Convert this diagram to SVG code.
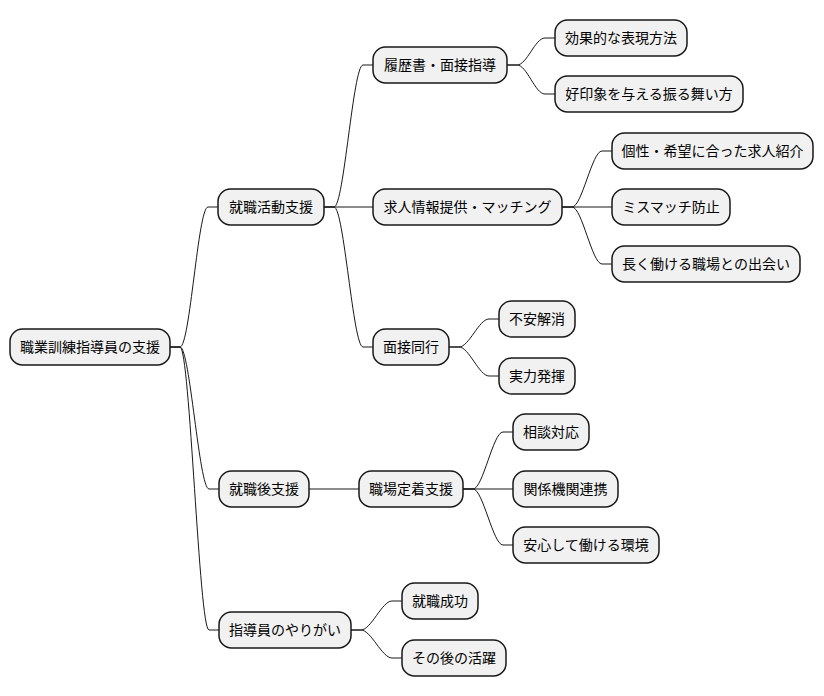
<svg xmlns="http://www.w3.org/2000/svg" width="824" height="696" viewBox="0 0 824 696">
<style>
.n rect{fill:#F1F1F1;stroke:#181818;stroke-width:1.5}
.n text{font-family:"Noto Sans CJK JP","Noto Sans",sans-serif;font-size:14px;fill:#000;text-anchor:middle}
.c path{fill:none;stroke:#181818;stroke-width:1}
</style>
<rect width="824" height="696" fill="#FFFFFF"/>
<g id="connectors" class="c">
<path d="M170,347 L180,347 C190,347 198,207 208,207 L218,207"/>
<path d="M170,347 L180,347 C190,347 199,489 209,489 L219,489"/>
<path d="M170,347 L180,347 C190,347 199,630 209,630 L219,630"/>
<path d="M324,207 L334,207 C344,207 353,65 363,65 L373,65"/>
<path d="M324,207 L373,207"/>
<path d="M324,207 L334,207 C344,207 353,347 363,347 L373,347"/>
<path d="M507,65 L517,65 C527,65 535,38 545,38 L555,38"/>
<path d="M507,65 L517,65 C527,65 535,94 545,94 L555,94"/>
<path d="M562,207 L572,207 C582,207 592,151 602,151 L612,151"/>
<path d="M562,207 L612,207"/>
<path d="M562,207 L572,207 C582,207 592,264 602,264 L612,264"/>
<path d="M449,347 L459,347 C469,347 479,319 489,319 L499,319"/>
<path d="M449,347 L459,347 C469,347 479,376 489,376 L499,376"/>
<path d="M309,489 L359,489"/>
<path d="M463,489 L473,489 C483,489 493,432 503,432 L513,432"/>
<path d="M463,489 L513,489"/>
<path d="M463,489 L473,489 C483,489 493,545 503,545 L513,545"/>
<path d="M351,630 L361,630 C371,630 382,601 392,601 L402,601"/>
<path d="M351,630 L361,630 C371,630 382,658 392,658 L402,658"/>
</g>
<g id="root" class="n"><rect x="10" y="329" width="160" height="36" rx="12.5"/><text x="90" y="352">職業訓練指導員の支援</text></g>
<g id="n1" class="n"><rect x="218" y="189" width="106" height="36" rx="12.5"/><text x="271" y="212">就職活動支援</text></g>
<g id="n1a" class="n"><rect x="373" y="47" width="134" height="36" rx="12.5"/><text x="440" y="70">履歴書・面接指導</text></g>
<g id="n1a1" class="n"><rect x="555" y="20" width="132" height="36" rx="12.5"/><text x="621" y="43">効果的な表現方法</text></g>
<g id="n1a2" class="n"><rect x="555" y="76" width="188" height="36" rx="12.5"/><text x="649" y="99">好印象を与える振る舞い方</text></g>
<g id="n1b" class="n"><rect x="373" y="189" width="189" height="36" rx="12.5"/><text x="467.5" y="212">求人情報提供・マッチング</text></g>
<g id="n1b1" class="n"><rect x="612" y="133" width="201" height="36" rx="12.5"/><text x="712.5" y="156">個性・希望に合った求人紹介</text></g>
<g id="n1b2" class="n"><rect x="612" y="189" width="118" height="36" rx="12.5"/><text x="671" y="212">ミスマッチ防止</text></g>
<g id="n1b3" class="n"><rect x="612" y="246" width="188" height="36" rx="12.5"/><text x="706" y="269">長く働ける職場との出会い</text></g>
<g id="n1c" class="n"><rect x="373" y="329" width="76" height="36" rx="12.5"/><text x="411" y="352">面接同行</text></g>
<g id="n1c1" class="n"><rect x="499" y="301" width="76" height="36" rx="12.5"/><text x="537" y="324">不安解消</text></g>
<g id="n1c2" class="n"><rect x="499" y="358" width="76" height="36" rx="12.5"/><text x="537" y="381">実力発揮</text></g>
<g id="n2" class="n"><rect x="219" y="471" width="90" height="36" rx="12.5"/><text x="264" y="494">就職後支援</text></g>
<g id="n2a" class="n"><rect x="359" y="471" width="104" height="36" rx="12.5"/><text x="411" y="494">職場定着支援</text></g>
<g id="n2a1" class="n"><rect x="513" y="414" width="76" height="36" rx="12.5"/><text x="551" y="437">相談対応</text></g>
<g id="n2a2" class="n"><rect x="513" y="471" width="105" height="36" rx="12.5"/><text x="565.5" y="494">関係機関連携</text></g>
<g id="n2a3" class="n"><rect x="513" y="527" width="146" height="36" rx="12.5"/><text x="586" y="550">安心して働ける環境</text></g>
<g id="n3" class="n"><rect x="219" y="612" width="132" height="36" rx="12.5"/><text x="285" y="635">指導員のやりがい</text></g>
<g id="n3a" class="n"><rect x="402" y="583" width="76" height="36" rx="12.5"/><text x="440" y="606">就職成功</text></g>
<g id="n3b" class="n"><rect x="402" y="640" width="104" height="36" rx="12.5"/><text x="454" y="663">その後の活躍</text></g>
</svg>
